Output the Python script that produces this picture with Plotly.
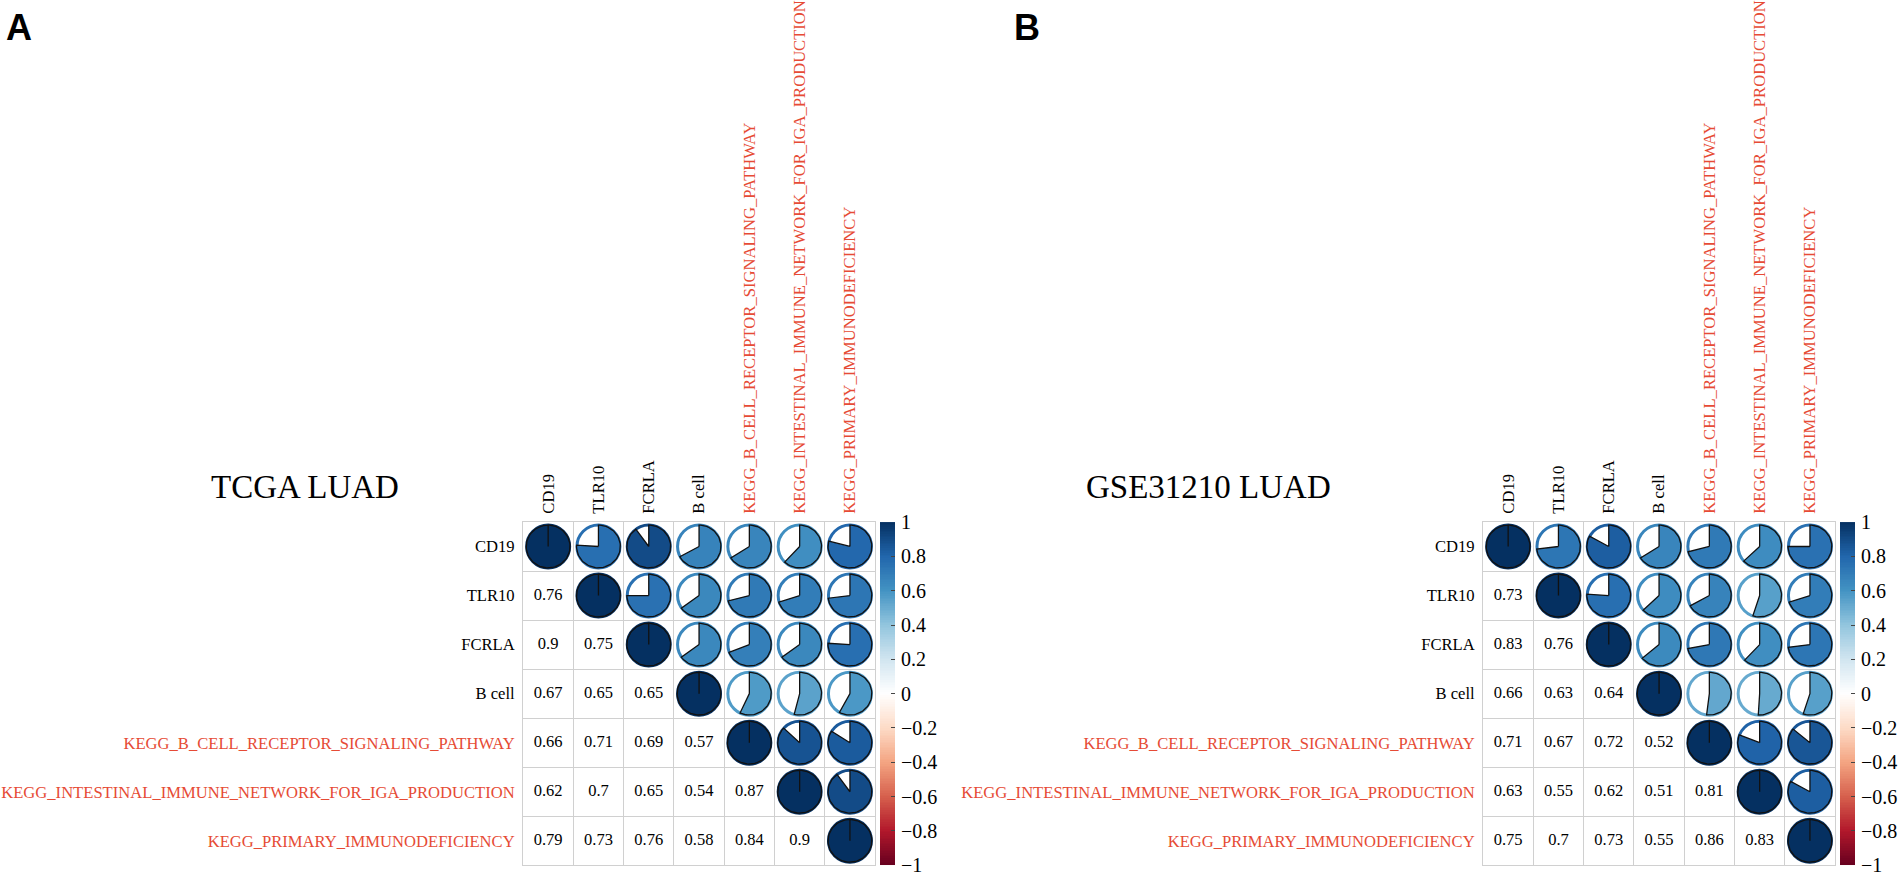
import numpy as np
import plotly.graph_objects as go
from plotly.colors import sample_colorscale

# ---------------- data ----------------
labels = [
    "CD19",
    "TLR10",
    "FCRLA",
    "B cell",
    "KEGG_B_CELL_RECEPTOR_SIGNALING_PATHWAY",
    "KEGG_INTESTINAL_IMMUNE_NETWORK_FOR_IGA_PRODUCTION",
    "KEGG_PRIMARY_IMMUNODEFICIENCY",
]
label_is_kegg = [False, False, False, False, True, True, True]

# lower-triangle correlations (row i, columns 0..i-1)
tcga_lower = [
    [0.76],
    [0.9, 0.75],
    [0.67, 0.65, 0.65],
    [0.66, 0.71, 0.69, 0.57],
    [0.62, 0.7, 0.65, 0.54, 0.87],
    [0.79, 0.73, 0.76, 0.58, 0.84, 0.9],
]
gse_lower = [
    [0.73],
    [0.83, 0.76],
    [0.66, 0.63, 0.64],
    [0.71, 0.67, 0.72, 0.52],
    [0.63, 0.55, 0.62, 0.51, 0.81],
    [0.75, 0.7, 0.73, 0.55, 0.86, 0.83],
]
panel_titles = ["TCGA LUAD", "GSE31210 LUAD"]
panel_letters = ["A", "B"]
colorbar_ticks = [1, 0.8, 0.6, 0.4, 0.2, 0, -0.2, -0.4, -0.6, -0.8, -1]
rdbu_colors = ["#67001F", "#B2182B", "#D6604D", "#F4A582", "#FDDBC7", "#FFFFFF",
               "#D1E5F0", "#92C5DE", "#4393C3", "#2166AC", "#053061"]

# ---------------- style / layout constants ----------------
W, H = 1903, 885
S = 50.3                       # cell size in px
N = len(labels)
SERIF = "Liberation Serif"
SANS = "Liberation Sans"
RED = "#E64B35"
GRID = "#d0d0d0"
colorscale = [[k / (len(rdbu_colors) - 1), c] for k, c in enumerate(rdbu_colors)]

panels = [
    dict(lower=tcga_lower, gx=523, gy=524, cbx=880, tx=305, ty=488, lx=4, ly=17),
    dict(lower=gse_lower, gx=1483, gy=524, cbx=1840, tx=1208, ty=488, lx=1012, ly=17),
]


def full_matrix(lower):
    m = np.eye(N)
    for i, row in enumerate(lower, start=1):
        for j, v in enumerate(row):
            m[i, j] = v
            m[j, i] = v
    return m


def color_of(r):
    return sample_colorscale(colorscale, [(r + 1) / 2])[0]


def fmt(v):
    return f"{v:g}".replace("-", "\u2212")


tick_text = [
    f'<span style="color:{RED if k else "black"}">{t}</span>'
    for t, k in zip(labels, label_is_kegg)
]

# gradient for the colour key
key_levels = np.linspace(-1, 1, 201)
key_centers = (key_levels[:-1] + key_levels[1:]) / 2

fig = go.Figure()
layout_axes = {}
ring_px = 43
R_sector = 21.9 / S   # radius in cell units

for p_i, p in enumerate(panels):
    sfx = "" if p_i == 0 else str(p_i + 1)
    xa, ya = "x" + sfx, "y" + sfx
    ksfx = str(p_i + 3)
    kxa, kya = "x" + ksfx, "y" + ksfx
    cax = "coloraxis" + sfx
    m = full_matrix(p["lower"])

    # rings (upper triangle incl. diagonal)
    rx, ry, rv = [], [], []
    for i in range(N):
        for j in range(i, N):
            rx.append(j + 1)
            ry.append(i + 1)
            rv.append(m[i, j])
    fig.add_trace(go.Scatter(
        x=rx, y=ry, mode="markers", xaxis=xa, yaxis=ya, hoverinfo="skip",
        marker=dict(size=ring_px, color="white",
                    line=dict(width=3, color=rv, coloraxis=cax)),
        showlegend=False, cliponaxis=False,
    ))

    # pie sectors
    for i in range(N):
        for j in range(i, N):
            r = m[i, j]
            n_pts = max(int(abs(r) * 90), 2)
            th = np.linspace(0, 2 * np.pi * r, n_pts)
            xs = np.concatenate([[j + 1], (j + 1) + R_sector * np.sin(th), [j + 1]])
            ys = np.concatenate([[i + 1], (i + 1) - R_sector * np.cos(th), [i + 1]])
            fig.add_trace(go.Scatter(
                x=xs, y=ys, mode="lines", fill="toself", fillcolor=color_of(r),
                line=dict(color="#111111", width=1.3),
                xaxis=xa, yaxis=ya, hoverinfo="skip", showlegend=False,
                cliponaxis=False,
            ))

    # numbers in lower triangle
    tx_, ty_, tt_ = [], [], []
    for i in range(N):
        for j in range(i):
            tx_.append(j + 1)
            ty_.append(i + 1)
            tt_.append(fmt(m[i, j]))
    fig.add_trace(go.Scatter(
        x=tx_, y=ty_, text=tt_, mode="text", xaxis=xa, yaxis=ya,
        textfont=dict(family=SERIF, size=16.5, color="black"),
        hoverinfo="skip", showlegend=False,
    ))

    # colour key
    fig.add_trace(go.Heatmap(
        x=[0], y=key_centers, z=[[v] for v in key_centers],
        colorscale=colorscale, zmin=-1, zmax=1, showscale=False,
        xaxis=kxa, yaxis=kya, hoverinfo="skip",
    ))

    x0, x1 = p["gx"] / W, (p["gx"] + N * S) / W
    y1, y0 = 1 - p["gy"] / H, 1 - (p["gy"] + N * S) / H
    common = dict(
        tickmode="array", tickvals=list(range(1, N + 1)), ticktext=tick_text,
        tickfont=dict(family=SERIF, size=16.6, color="black"),
        showgrid=False, zeroline=False, ticks="",
        showline=True, mirror=True, linecolor=GRID, linewidth=1,
        minor=dict(tickmode="array", tickvals=[k + 0.5 for k in range(N + 1)],
                   showgrid=True, gridcolor=GRID, gridwidth=1, ticks=""),
        ticklabelstandoff=4, fixedrange=True,
    )
    layout_axes["xaxis" + sfx] = dict(
        domain=[x0, x1], range=[0.5, N + 0.5], side="top", tickangle=-90,
        anchor=ya, **common)
    layout_axes["yaxis" + sfx] = dict(
        domain=[y0, y1], range=[N + 0.5, 0.5], anchor=xa, **common)
    layout_axes[cax] = dict(colorscale=colorscale, cmin=-1, cmax=1, showscale=False)

    layout_axes["xaxis" + ksfx] = dict(
        domain=[p["cbx"] / W, (p["cbx"] + 15) / W], range=[-0.5, 0.5],
        visible=False, anchor=kya, fixedrange=True)
    layout_axes["yaxis" + ksfx] = dict(
        domain=[y0, y1], range=[-1.0005, 1.0005], side="right", anchor=kxa,
        tickmode="array", tickvals=colorbar_ticks,
        ticktext=[fmt(v) for v in colorbar_ticks],
        ticks="inside", ticklen=4, tickcolor="#444444", tickwidth=1,
        tickfont=dict(family=SERIF, size=20, color="black"),
        ticklabelstandoff=5, ticklabeloverflow="allow",
        showgrid=False, zeroline=False, showline=False,
        fixedrange=True)

annotations = []
for p_i, p in enumerate(panels):
    annotations.append(dict(
        text=panel_titles[p_i], x=p["tx"] / W, y=1 - p["ty"] / H,
        xref="paper", yref="paper", xanchor="center", yanchor="middle",
        showarrow=False, font=dict(family=SERIF, size=33, color="black")))
    annotations.append(dict(
        text=f"<b>{panel_letters[p_i]}</b>", x=p["lx"] / W, y=1 - p["ly"] / H,
        xref="paper", yref="paper", xanchor="left", yanchor="middle",
        showarrow=False, font=dict(family=SANS, size=36, color="black")))

fig.update_layout(
    width=W, height=H, margin=dict(l=0, r=0, t=0, b=0),
    paper_bgcolor="white", plot_bgcolor="white", showlegend=False,
    annotations=annotations, **layout_axes,
)

fig.write_html(
    "out.html",
    config={"displayModeBar": False},
    post_script="document.body.style.margin='0';document.body.style.overflow='hidden';",
)
